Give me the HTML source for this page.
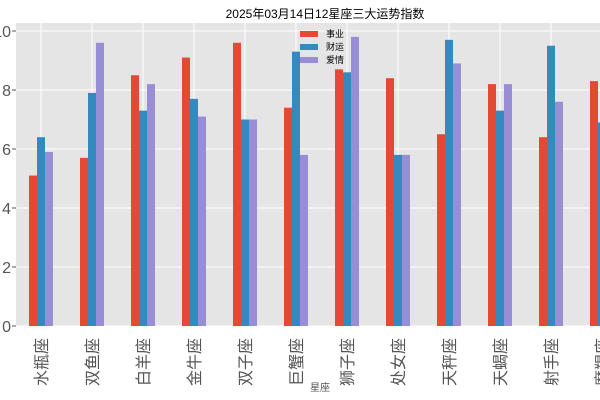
<!DOCTYPE html>
<html><head><meta charset="utf-8"><style>
html,body{margin:0;padding:0;background:#fff;}
svg{display:block;font-family:"Liberation Sans","Noto Sans CJK SC",sans-serif;}
</style></head><body>
<svg width="600" height="400" xmlns="http://www.w3.org/2000/svg">
<rect x="16" y="23" width="600" height="303" fill="#e5e5e5"/>
<g id="grid" stroke="#fff" stroke-width="1"></g>
<g id="bars"></g>
<g id="labels" font-size="16" fill="#555"></g>
<text x="325" y="18" font-size="12" text-anchor="middle" fill="#000">2025年03月14日12星座三大运势指数</text>
<text x="320" y="391" font-size="10" text-anchor="middle" fill="#555">星座</text>
<g font-size="9" fill="#000">
<rect x="300" y="31" width="18" height="6" fill="#e24a33"/><text x="326" y="37">事业</text>
<rect x="300" y="44" width="18" height="6" fill="#348abd"/><text x="326" y="50">财运</text>
<rect x="300" y="57" width="18" height="6" fill="#988ed5"/><text x="326" y="63">爱情</text>
</g>
</svg>
<script>
const ns="http://www.w3.org/2000/svg";
const names=["水瓶座","双鱼座","白羊座","金牛座","双子座","巨蟹座","狮子座","处女座","天秤座","天蝎座","射手座","摩羯座"];
const d=[[5.1,6.4,5.9],[5.7,7.9,9.6],[8.5,7.3,8.2],[9.1,7.7,7.1],[9.6,7.0,7.0],[7.4,9.3,5.8],[8.7,8.6,9.8],[8.4,5.8,5.8],[6.5,9.7,8.9],[8.2,7.3,8.2],[6.4,9.5,7.6],[8.3,6.9,7.0]];
const cols=["#e24a33","#348abd","#988ed5"];
const g=document.getElementById("grid"),b=document.getElementById("bars"),l=document.getElementById("labels");
function el(p,t,a,txt){const e=document.createElementNS(ns,t);for(const k in a)e.setAttribute(k,a[k]);if(txt)e.textContent=txt;p.appendChild(e);return e;}
const y0=326,s=29.5;
for(let v=0;v<=10;v+=2){const y=y0-v*s;el(g,"line",{x1:16,x2:600,y1:y,y2:y});el(l,"text",{x:11,y:y+6,"text-anchor":"end"},String(v));el(l,"line",{x1:12,x2:16,y1:y,y2:y,stroke:"#555"});}
names.forEach((n,i)=>{const c=41+51*i;el(g,"line",{x1:c,x2:c,y1:23,y2:326});
d[i].forEach((v,j)=>{el(b,"rect",{x:c-12+8*j,y:y0-v*s,width:8,height:v*s,fill:cols[j]});});
el(l,"text",{transform:`translate(${c+6},338) rotate(-90)`,"text-anchor":"end"},n);});
</script>
</body></html>
